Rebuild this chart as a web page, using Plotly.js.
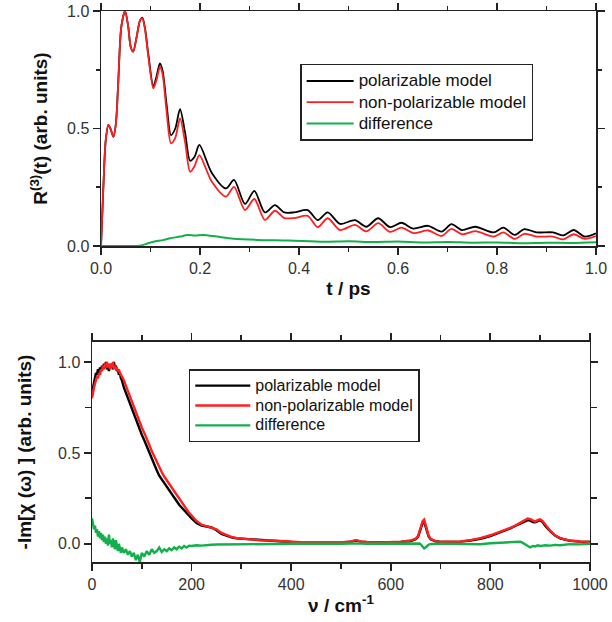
<!DOCTYPE html>
<html>
<head>
<meta charset="utf-8">
<script src="https://cdn.plot.ly/plotly-3.0.1.min.js"></script>
<style>html,body{margin:0;padding:0;background:#fff;}#chart{width:612px;height:622px;}</style>
</head>
<body>
<div id="chart"></div>
<script>
// ---------- Top panel: R(3)(t) ----------
const tTime = [
  0, 0.0047, 0.0094, 0.0148, 0.019, 0.025, 0.030, 0.0347, 0.041, 0.0485,
  0.055, 0.0599, 0.065, 0.072, 0.0788, 0.0835, 0.089, 0.0956, 0.1057, 0.1125,
  0.119, 0.1245, 0.1326, 0.1414, 0.150, 0.1596, 0.170, 0.180, 0.189, 0.1986,
  0.2236, 0.2525, 0.2687, 0.2909, 0.3098, 0.331, 0.3515, 0.37, 0.39, 0.4175,
  0.4377, 0.458, 0.4828, 0.513, 0.536, 0.560, 0.584, 0.607, 0.631, 0.661,
  0.688, 0.708, 0.729, 0.756, 0.793, 0.813, 0.836, 0.855, 0.88, 0.913,
  0.934, 0.955, 0.977, 1.0
];
const rPolarizable = [
  0, 0.25, 0.447, 0.515, 0.50, 0.465, 0.52, 0.692, 0.933, 1.0,
  0.933, 0.848, 0.827, 0.89, 0.96, 0.972, 0.925, 0.815, 0.68, 0.725,
  0.777, 0.745, 0.60, 0.472, 0.50, 0.582, 0.48, 0.363, 0.38, 0.43,
  0.312, 0.245, 0.281, 0.179, 0.235, 0.143, 0.174, 0.143, 0.143, 0.153,
  0.11, 0.143, 0.094, 0.11, 0.082, 0.118, 0.08, 0.099, 0.074, 0.086,
  0.061, 0.093, 0.068, 0.082, 0.058, 0.078, 0.047, 0.072, 0.058, 0.058,
  0.045, 0.068, 0.04, 0.054
];
const rNonPolarizable = [
  0, 0.25, 0.447, 0.515, 0.50, 0.465, 0.52, 0.692, 0.933, 1.0,
  0.933, 0.848, 0.827, 0.89, 0.96, 0.969, 0.92, 0.806, 0.671, 0.71,
  0.763, 0.73, 0.57, 0.437, 0.46, 0.543, 0.44, 0.316, 0.34, 0.387,
  0.274, 0.21, 0.252, 0.153, 0.2, 0.111, 0.15, 0.119, 0.119, 0.128,
  0.08, 0.118, 0.068, 0.09, 0.062, 0.097, 0.06, 0.078, 0.055, 0.066,
  0.043, 0.073, 0.05, 0.063, 0.04, 0.058, 0.03, 0.052, 0.04, 0.04,
  0.028, 0.05, 0.03, 0.042
];
const tDiff = [0, 0.05, 0.078, 0.09, 0.106, 0.125, 0.14, 0.16, 0.174, 0.19, 0.207, 0.234, 0.268, 0.315, 0.38, 0.45, 0.5, 0.55, 0.6, 0.65, 0.7, 0.75, 0.8, 0.85, 0.9, 0.95, 1.0];
const rDifference = [0, 0, 0.001, 0.008, 0.018, 0.025, 0.033, 0.04, 0.047, 0.045, 0.047, 0.04, 0.031, 0.026, 0.023, 0.018, 0.02, 0.017, 0.019, 0.015, 0.017, 0.014, 0.015, 0.012, 0.014, 0.013, 0.016];

// ---------- Bottom panel: -Im[chi(omega)] ----------
const nu = [
  0, 2, 4, 6, 8, 10, 12, 14, 16, 18,
  20, 22, 24, 26, 28, 30, 32, 34, 36, 38,
  40, 42, 44, 46, 48, 50, 52, 54, 56, 58,
  60, 64, 68, 72, 76, 80, 84, 88, 92, 96,
  100, 105, 110, 115, 120, 125, 130, 135, 140, 145,
  150, 155, 160, 165, 170, 175, 180, 185, 190, 195,
  200, 210, 220, 230, 240, 250, 260, 270, 280, 290,
  300, 320, 340, 360, 380, 400, 420, 440, 460, 480,
  500, 520, 530, 540, 550, 560, 580, 600, 620, 640,
  650, 655, 658, 661, 664, 667, 670, 673, 676, 680,
  685, 690, 700, 720, 740, 760, 780, 800, 820, 840,
  850, 860, 865, 870, 875, 880, 885, 890, 895, 900,
  905, 910, 920, 930, 940, 950, 960, 980, 1000
];
const chiPolarizable = [
  0.83, 0.86, 0.90, 0.92, 0.94, 0.93, 0.96, 0.94, 0.97, 0.95,
  0.98, 0.96, 0.99, 0.97, 1.00, 0.96, 0.98, 0.95, 0.99, 0.97,
  0.99, 0.96, 1.00, 0.97, 0.98, 0.95, 0.96, 0.93, 0.94, 0.91,
  0.90, 0.86, 0.83, 0.80, 0.77, 0.74, 0.71, 0.68, 0.65, 0.63,
  0.60, 0.57, 0.535, 0.50, 0.47, 0.44, 0.405, 0.375, 0.355, 0.33,
  0.31, 0.29, 0.27, 0.255, 0.235, 0.215, 0.20, 0.185, 0.17, 0.15,
  0.14, 0.115, 0.10, 0.095, 0.09, 0.075, 0.055, 0.045, 0.035, 0.03,
  0.028, 0.022, 0.018, 0.017, 0.013, 0.01, 0.008, 0.007, 0.006, 0.006,
  0.006, 0.012, 0.018, 0.012, 0.008, 0.007, 0.007, 0.008, 0.01, 0.015,
  0.025, 0.04, 0.06, 0.09, 0.115, 0.12, 0.095, 0.06, 0.04, 0.025,
  0.018, 0.014, 0.01, 0.01, 0.012, 0.018, 0.028, 0.043, 0.062, 0.085,
  0.098, 0.11, 0.118, 0.125, 0.13, 0.128, 0.12, 0.118, 0.125, 0.13,
  0.12, 0.1, 0.07, 0.045, 0.03, 0.022, 0.017, 0.012, 0.01
];
const chiNonPolarizable = [
  0.80, 0.84, 0.86, 0.88, 0.90, 0.92, 0.91, 0.94, 0.93, 0.96,
  0.95, 0.98, 0.96, 0.99, 0.97, 1.00, 0.97, 0.99, 0.96, 0.99,
  0.97, 1.00, 0.96, 0.98, 0.96, 0.97, 0.95, 0.96, 0.94, 0.93,
  0.92, 0.90, 0.87, 0.84, 0.81, 0.78, 0.75, 0.72, 0.69, 0.665,
  0.64, 0.61, 0.58, 0.545, 0.51, 0.48, 0.45, 0.42, 0.395, 0.37,
  0.35, 0.33, 0.31, 0.29, 0.27, 0.245, 0.23, 0.21, 0.19, 0.17,
  0.155, 0.125, 0.105, 0.097, 0.092, 0.08, 0.06, 0.048, 0.038, 0.032,
  0.029, 0.023, 0.019, 0.018, 0.014, 0.011, 0.009, 0.008, 0.007, 0.007,
  0.007, 0.013, 0.02, 0.013, 0.009, 0.008, 0.008, 0.009, 0.012, 0.018,
  0.028, 0.045, 0.07, 0.10, 0.125, 0.133, 0.105, 0.068, 0.045, 0.028,
  0.02, 0.015, 0.011, 0.011, 0.013, 0.02, 0.031, 0.047, 0.066, 0.088,
  0.10, 0.115, 0.125, 0.132, 0.139, 0.136, 0.128, 0.122, 0.13, 0.135,
  0.125, 0.105, 0.072, 0.047, 0.032, 0.023, 0.018, 0.013, 0.011
];
const chiDifference = [
  0.14, 0.11, 0.08, 0.1, 0.06, 0.08, 0.04, 0.07, 0.03, 0.06,
  0.02, 0.05, 0.01, 0.04, 0.0, 0.03, -0.01, 0.05, 0.0, 0.02,
  -0.02, 0.03, 0.0, -0.03, 0.02, -0.01, -0.04, 0.0, -0.03, -0.05,
  -0.02, -0.05, -0.03, -0.06, -0.04, -0.07, -0.05, -0.09, -0.06, -0.1,
  -0.05, -0.07, -0.04, -0.06, -0.03, -0.05, -0.04, -0.02, -0.045, -0.03,
  -0.04, -0.025, -0.035, -0.02, -0.03, -0.015, -0.025, -0.012, -0.02, -0.01,
  -0.012, -0.008, -0.01, -0.006, -0.005, -0.004, -0.004, -0.002, -0.003, -0.002,
  -0.002, -0.001, 0, -0.001, 0, 0, 0.001, 0, 0, 0.001,
  0, 0.002, 0.003, 0.001, 0, 0, 0.001, 0, 0.001, 0.002,
  0.003, 0.004, 0.002, -0.005, -0.015, -0.025, -0.02, -0.01, -0.004, -0.002,
  0, 0, 0.001, 0, 0.002, 0, -0.002, 0.003, 0.005, 0.008,
  0.01, 0.012, 0.005, -0.005, -0.015, -0.02, -0.012, -0.015, -0.008, -0.012,
  -0.01, -0.008, -0.01, -0.006, -0.008, -0.004, -0.002, -0.003, 0
];

const seriesNames = ['polarizable model', 'non-polarizable model', 'difference'];
const seriesColors = ['#000000', '#ff1f1f', '#12b04a'];

const FONT = 'Arial, Liberation Sans, sans-serif';
const AX = '#222222';

function sized(name, px) { return '<span style="font-size:' + px + 'px">' + name + '</span>'; }

const traces = [
  {x: tTime, y: rPolarizable, name: sized(seriesNames[0], 17), mode: 'lines', line: {color: seriesColors[0], width: 1.8, shape: 'spline', smoothing: 0.8}, xaxis: 'x', yaxis: 'y', legend: 'legend'},
  {x: tTime, y: rNonPolarizable, name: sized(seriesNames[1], 17), mode: 'lines', line: {color: seriesColors[1], width: 1.8, shape: 'spline', smoothing: 0.8}, xaxis: 'x', yaxis: 'y', legend: 'legend'},
  {x: tDiff, y: rDifference, name: sized(seriesNames[2], 17), mode: 'lines', line: {color: seriesColors[2], width: 2, shape: 'spline', smoothing: 0.8}, xaxis: 'x', yaxis: 'y', legend: 'legend'},
  {x: nu, y: chiPolarizable, name: sized(seriesNames[0], 16), mode: 'lines', line: {color: seriesColors[0], width: 2.4}, xaxis: 'x2', yaxis: 'y2', legend: 'legend2'},
  {x: nu, y: chiNonPolarizable, name: sized(seriesNames[1], 16), mode: 'lines', line: {color: seriesColors[1], width: 2.4}, xaxis: 'x2', yaxis: 'y2', legend: 'legend2'},
  {x: nu, y: chiDifference, name: sized(seriesNames[2], 16), mode: 'lines', line: {color: seriesColors[2], width: 2.4}, xaxis: 'x2', yaxis: 'y2', legend: 'legend2'}
];

const axCommon = {
  showgrid: false, zeroline: false, showline: true, linecolor: AX, linewidth: 1.5,
  mirror: 'allticks', ticks: 'outside', ticklen: 7, tickwidth: 1.8, tickcolor: AX,
  tickfont: {family: FONT, size: 16, color: '#333'}
};
const titleFont = {family: FONT, size: 19, color: '#111', weight: 'bold'};

const layout = {
  width: 612, height: 622,
  margin: {l: 92, r: 16, t: 11, b: 60},
  paper_bgcolor: '#fff', plot_bgcolor: '#fff',
  font: {family: FONT, size: 16, color: '#111'},
  showlegend: true,
  xaxis: Object.assign({}, axCommon, {
    domain: [0.0179, 1], range: [0, 1], dtick: 0.2, tick0: 0, tickformat: '.1f', anchor: 'y',
    minor: {dtick: 0.1, tick0: 0, ticks: 'outside', ticklen: 4, tickwidth: 1.8, tickcolor: AX},
    title: {text: 't / ps', font: titleFont, standoff: 6}
  }),
  yaxis: Object.assign({}, axCommon, {
    domain: [0.5735, 1], range: [0, 1], dtick: 0.5, tick0: 0, tickformat: '.1f', anchor: 'x',
    minor: {dtick: 0.25, tick0: 0, ticks: 'outside', ticklen: 4, tickwidth: 1.8, tickcolor: AX},
    title: {text: 'R<sup>(3)</sup>(t) (arb. units)', font: titleFont, standoff: 14}
  }),
  xaxis2: Object.assign({}, axCommon, {
    domain: [0, 0.988], range: [0, 1000], dtick: 200, tick0: 0, anchor: 'y2',
    minor: {dtick: 100, tick0: 0, ticks: 'outside', ticklen: 5, tickwidth: 1.8, tickcolor: AX},
    title: {text: 'ν / cm<sup>-1</sup>', font: titleFont, standoff: 7}
  }),
  yaxis2: Object.assign({}, axCommon, {
    domain: [0, 0.3993], range: [-0.1, 1.11], dtick: 0.5, tick0: 0, tickformat: '.1f', anchor: 'x2',
    minor: {dtick: 0.25, tick0: 0, ticks: 'outside', ticklen: 6, tickwidth: 1.8, tickcolor: AX},
    title: {text: '-Im[χ (ω) ] (arb. units)', font: titleFont, standoff: 21}
  }),
  legend: {
    x: 0.413, y: 0.904, xanchor: 'left', yanchor: 'top',
    bgcolor: '#fff', bordercolor: '#222', borderwidth: 1.5, itemwidth: 47,
    font: {family: FONT, size: 14, color: '#111'}, tracegroupgap: 0
  },
  legend2: {
    x: 0.192, y: 0.350, xanchor: 'left', yanchor: 'top',
    bgcolor: '#fff', bordercolor: '#222', borderwidth: 1.5, itemwidth: 55,
    font: {family: FONT, size: 13, color: '#111'}, tracegroupgap: 0
  }
};

Plotly.newPlot('chart', traces, layout, {staticPlot: true, displayModeBar: false});
</script>
</body>
</html>
